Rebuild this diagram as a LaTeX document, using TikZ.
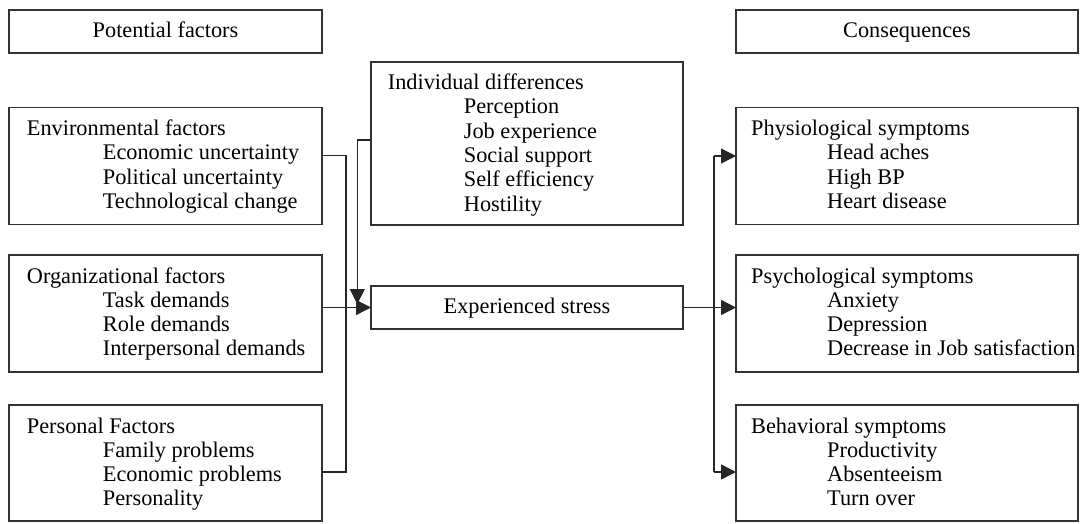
\documentclass[tikz,border=0pt]{standalone}
\usepackage{fontspec}
\setmainfont{Liberation Serif}
\usetikzlibrary{arrows.meta}
\newcommand\subi{\hspace*{76pt}}
\begin{document}
\begin{tikzpicture}[x=1pt,y=-1pt,
  box/.style={draw=black!80,line width=1.4pt,rectangle,inner sep=0pt,outer sep=0pt},
  txt/.style={anchor=base west,inner sep=0pt,font=\fontsize{22.3}{24.3}\selectfont,align=left},
  ctxt/.style={inner sep=0pt,anchor=base,yshift=-6pt,font=\fontsize{22.3}{24.3}\selectfont},
  ln/.style={draw=black!85,line width=1.4pt},
  arr/.style={ln,arrows={-Triangle[length=15pt,width=15pt]}}]
\useasboundingbox (0,0) rectangle (1080,523);
% header boxes
\node[box,minimum width=313pt,minimum height=43pt] (pot) at (165.5,31.5) {};
\node[ctxt] (pott) at (pot.center) {Potential factors};
\node[box,minimum width=342pt,minimum height=43pt] (cons) at (907,31.5) {};
\node[ctxt] (const) at (cons.center) {Consequences};
% left boxes
\node[box,minimum width=313pt,minimum height=117pt] (env) at (165.5,166) {};
\node[txt] (envt) at (26.7,135.5) {\begin{tabular}[t]{@{}l@{}}Environmental factors\\ \subi Economic uncertainty\\ \subi Political uncertainty\\ \subi Technological change\end{tabular}};
\node[box,minimum width=313pt,minimum height=117pt] (org) at (165.5,313.5) {};
\node[txt] (orgt) at (26.7,283) {\begin{tabular}[t]{@{}l@{}}Organizational factors\\ \subi Task demands\\ \subi Role demands\\ \subi Interpersonal demands\end{tabular}};
\node[box,minimum width=313pt,minimum height=116pt] (pers) at (165.5,463) {};
\node[txt] (perst) at (26.7,433) {\begin{tabular}[t]{@{}l@{}}Personal Factors\\ \subi Family problems\\ \subi Economic problems\\ \subi Personality\end{tabular}};
% center boxes
\node[box,minimum width=312pt,minimum height=163pt] (ind) at (527,143.5) {};
\node[txt] (indt) at (387.7,89.5) {\begin{tabular}[t]{@{}l@{}}Individual differences\\ \subi Perception\\ \subi Job experience\\ \subi Social support\\ \subi Self efficiency\\ \subi Hostility\end{tabular}};
\node[box,minimum width=312pt,minimum height=43pt] (str) at (527,307.5) {};
\node[ctxt] (strt) at (str.center) {Experienced stress};
% right boxes
\node[box,minimum width=342pt,minimum height=117pt] (phy) at (907,166) {};
\node[txt] (phyt) at (751,135.5) {\begin{tabular}[t]{@{}l@{}}Physiological symptoms\\ \subi Head aches\\ \subi High BP\\ \subi Heart disease\end{tabular}};
\node[box,minimum width=342pt,minimum height=117pt] (psy) at (907,313.5) {};
\node[txt] (psyt) at (751,283) {\begin{tabular}[t]{@{}l@{}}Psychological symptoms\\ \subi Anxiety\\ \subi Depression\\ \subi Decrease in Job satisfaction\end{tabular}};
\node[box,minimum width=342pt,minimum height=116pt] (beh) at (907,463) {};
\node[txt] (beht) at (751,433) {\begin{tabular}[t]{@{}l@{}}Behavioral symptoms\\ \subi Productivity\\ \subi Absenteeism\\ \subi Turn over\end{tabular}};
% junction coordinates
\coordinate (j1) at (346,155.5);
\coordinate (j2) at (346,472);
\coordinate (k1) at (357.3,140);
\coordinate (k2) at (357.3,304);
\coordinate (r1) at (714,156);
\coordinate (r2) at (714,472);
% connectors
\draw[ln] (env.east |- j1) -- (j1) -- (j2) -- (pers.east |- j2);
\draw[arr] (org.east |- str.west) -- (str.west);
\draw[arr] (ind.west |- k1) -- (k1) -- (k2);
\draw[arr] (str.east) -- (psy.west |- str.east);
\draw[ln] (r1) -- (r2);
\draw[arr] (r1) -- (phy.west |- r1);
\draw[arr] (r2) -- (beh.west |- r2);
\end{tikzpicture}
\end{document}
